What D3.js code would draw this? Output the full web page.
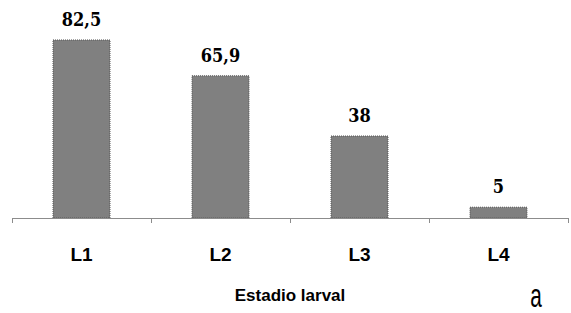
<!DOCTYPE html>
<html>
<head>
<meta charset="utf-8">
<script src="https://cdn.jsdelivr.net/npm/d3@7"></script>
<style>
  body { margin: 0; background: #fff; }
  svg { display: block; }
</style>
</head>
<body>
<div id="chart"></div>
<script>
// data
const categories = ["L1", "L2", "L3", "L4"];
const values = [82.5, 65.9, 38, 5];
const valueLabels = ["82,5", "65,9", "38", "5"];
const xTitle = "Estadio larval";
const panelLetter = "a";

const width = 571, height = 313;
const axisY = 218;

const svg = d3.select("#chart").append("svg")
    .attr("width", width)
    .attr("height", height);

const x = d3.scaleBand()
    .domain(categories)
    .range([12, 568])
    .paddingInner(0.59)
    .paddingOuter(0.295);

const y = d3.scaleLinear()
    .domain([0, 90])
    .range([axisY, axisY - 194.2]);

// bars
svg.selectAll(".bar")
    .data(values)
    .enter().append("rect")
    .attr("class", "bar")
    .attr("x", (d, i) => x(categories[i]))
    .attr("y", d => y(d))
    .attr("width", x.bandwidth())
    .attr("height", d => y(0) - y(d))
    .attr("fill", "#808080")
    .attr("stroke", "#555")
    .attr("stroke-width", 1)
    .attr("stroke-dasharray", "1,1");

// value labels
svg.selectAll(".val")
    .data(values)
    .enter().append("text")
    .attr("class", "val")
    .attr("x", (d, i) => x(categories[i]) + x.bandwidth() / 2)
    .attr("y", d => y(d) - 14)
    .attr("text-anchor", "middle")
    .attr("font-family", "'DejaVu Serif Condensed', 'DejaVu Serif', serif")
    .attr("font-stretch", "condensed")
    .attr("font-weight", "bold")
    .attr("font-size", "18px")
    .attr("fill", "#000")
    .text((d, i) => valueLabels[i]);

// x axis line + ticks at band edges
const step = x.step();
const edges = d3.range(categories.length + 1).map(i => 12 + i * step);
svg.append("line")
    .attr("x1", 12).attr("x2", 568)
    .attr("y1", axisY + 0.5).attr("y2", axisY + 0.5)
    .attr("stroke", "#8c8c8c");
svg.selectAll(".tick")
    .data(edges)
    .enter().append("line")
    .attr("x1", d => Math.round(d) + 0.5).attr("x2", d => Math.round(d) + 0.5)
    .attr("y1", axisY).attr("y2", axisY + 5)
    .attr("stroke", "#8c8c8c");

// category labels
svg.selectAll(".cat")
    .data(categories)
    .enter().append("text")
    .attr("class", "cat")
    .attr("x", d => x(d) + x.bandwidth() / 2)
    .attr("y", 261)
    .attr("text-anchor", "middle")
    .attr("font-family", "'Liberation Sans Narrow', 'Liberation Sans', Arial, sans-serif")
    .attr("font-weight", "bold")
    .attr("font-size", "19px")
    .text(d => d);

// axis title
svg.append("text")
    .attr("x", 290)
    .attr("y", 301)
    .attr("text-anchor", "middle")
    .attr("font-family", "'Liberation Sans', Arial, sans-serif")
    .attr("font-weight", "bold")
    .attr("font-size", "17px")
    .text(xTitle);

// panel letter
svg.append("text")
    .attr("transform", "translate(536,307) scale(0.8,1.3)")
    .attr("text-anchor", "middle")
    .attr("font-family", "'Liberation Sans', Arial, sans-serif")
    .attr("font-size", "26px")
    .text(panelLetter);
</script>
</body>
</html>
